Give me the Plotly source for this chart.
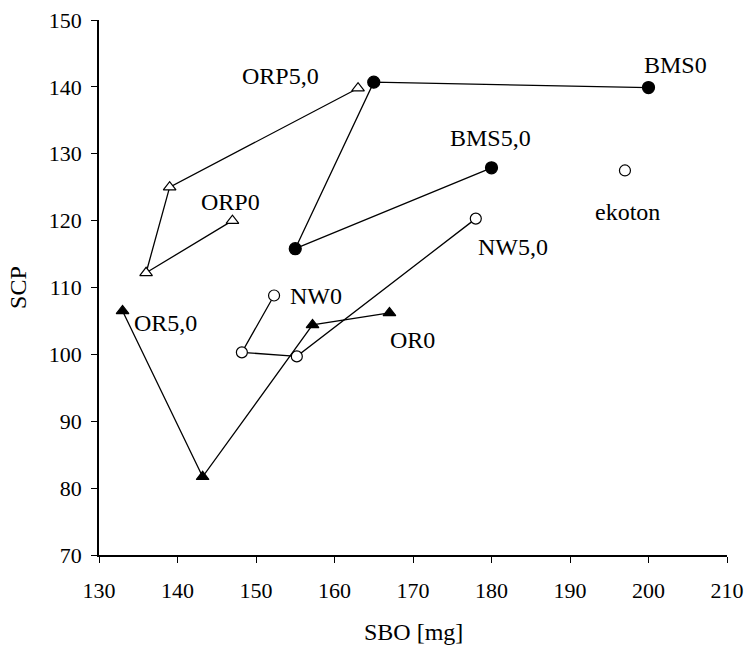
import plotly.graph_objects as go

# BMS series (filled circles)
bms_x = [200, 165, 155, 180]
bms_y = [139.9, 140.7, 115.8, 127.9]
# ORP series (open triangles)
orp_x = [147, 136, 139, 163]
orp_y = [120, 112.2, 125, 139.8]
# NW series (open circles)
nw_x = [152.3, 148.2, 155.2, 178]
nw_y = [108.8, 100.3, 99.7, 120.3]
# OR series (filled triangles)
or_x = [167, 157.2, 143.2, 133]
or_y = [106.2, 104.4, 81.7, 106.5]
# ekoton (open circle, single)
ek_x = [197]
ek_y = [127.5]

label_text = ["ORP5,0", "BMS0", "BMS5,0", "ORP0", "ekoton", "NW5,0", "NW0", "OR5,0", "OR0"]
label_x = [153.1, 203.4, 179.9, 146.8, 197.3, 182.7, 157.7, 138.5, 169.9]
label_y = [141.6, 143.2, 132.3, 122.8, 121.3, 116.0, 108.7, 104.7, 102.1]

FONT = "Liberation Serif"
fig = go.Figure()
line = dict(color="black", width=1.3)

def add(x, y, symbol, fill, size, mode="lines+markers"):
    fig.add_trace(go.Scatter(
        x=x, y=y, mode=mode, line=line,
        marker=dict(symbol=symbol, size=size, color=fill,
                    line=dict(color="black", width=1.2)),
        showlegend=False, cliponaxis=False))

add(orp_x, orp_y, "triangle-up", "white", 11)
add(nw_x, nw_y, "circle", "white", 11)
add(or_x, or_y, "triangle-up", "black", 11)
add(bms_x, bms_y, "circle", "black", 12)
add(ek_x, ek_y, "circle", "white", 11, mode="markers")

for t, x, y in zip(label_text, label_x, label_y):
    fig.add_annotation(x=x, y=y, text=t, showarrow=False,
                       font=dict(family=FONT, size=24, color="black"))

# axis titles
fig.add_annotation(xref="paper", yref="paper", x=0.5, y=-0.144, text="SBO [mg]",
                   showarrow=False, yanchor="middle",
                   font=dict(family=FONT, size=24, color="black"))
fig.add_annotation(xref="paper", yref="paper", x=-0.129, y=0.501, text="SCP",
                   showarrow=False, textangle=-90, xanchor="center",
                   font=dict(family=FONT, size=24, color="black"))

axis_common = dict(showgrid=False, zeroline=False, showline=True,
                   linecolor="black", linewidth=1.5, ticks="outside",
                   ticklen=6, tickwidth=1.3, tickcolor="black",
                   tickfont=dict(family=FONT, size=22, color="black"),
                   mirror=False, automargin=False)

fig.update_layout(
    width=746, height=647,
    margin=dict(l=99, r=19, t=20, b=92),
    paper_bgcolor="white", plot_bgcolor="white",
    xaxis=dict(range=[130, 210], dtick=10, tick0=130,
               ticklabelstandoff=9, **axis_common),
    yaxis=dict(range=[70, 150], dtick=10, tick0=70,
               ticklabelstandoff=5, **axis_common),
)

fig.write_html("out.html")
